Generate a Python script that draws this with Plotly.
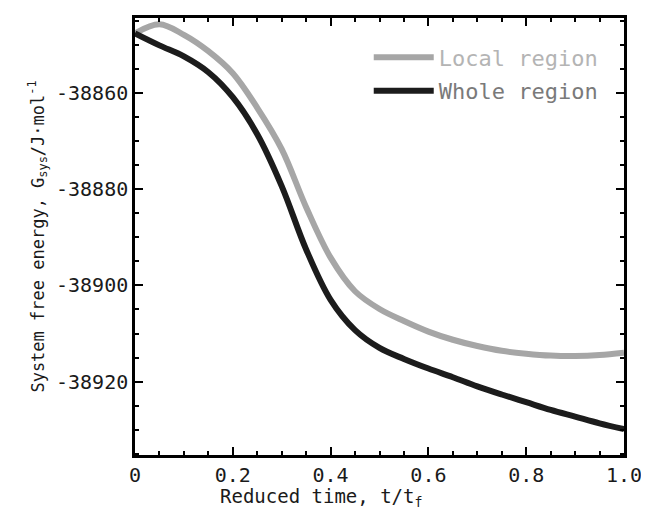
import plotly.graph_objects as go

reduced_time = [0, 0.05, 0.1, 0.15, 0.2, 0.25, 0.3, 0.35, 0.4, 0.45, 0.5,
                0.55, 0.6, 0.65, 0.7, 0.75, 0.8, 0.85, 0.9, 0.95, 1.0]
local_region = [-38847.5, -38845.6, -38847.8, -38851.2, -38855.8, -38863.0,
                -38871.6, -38883.7, -38894.2, -38901.2, -38904.9, -38907.4,
                -38909.6, -38911.3, -38912.6, -38913.6, -38914.2, -38914.6,
                -38914.7, -38914.5, -38914.0]
whole_region = [-38847.5, -38850.0, -38852.3, -38855.6, -38860.8, -38868.5,
                -38879.3, -38892.5, -38903.0, -38909.3, -38913.0, -38915.3,
                -38917.3, -38919.1, -38921.0, -38922.7, -38924.3, -38925.9,
                -38927.3, -38928.7, -38929.9]

x_tickvals = [0, 0.2, 0.4, 0.6, 0.8, 1.0]
x_ticktext = ["0", "0.2", "0.4", "0.6", "0.8", "1.0"]
y_tickvals = [-38860, -38880, -38900, -38920]
y_ticktext = ["-38860", "-38880", "-38900", "-38920"]

x_title = "Reduced time, t/t<sub>f</sub>"
y_title = "System free energy, G<sub>sys</sub>/J·mol<sup>-1</sup>"

font_mono = "DejaVu Sans Mono"

fig = go.Figure()
fig.add_trace(go.Scatter(
    x=reduced_time, y=local_region, mode="lines", line_shape="spline",
    name="<span style='color:#b4b4b4'>Local region</span>", legendgroup="a",
    line=dict(color="#a6a6a6", width=6)))
fig.add_trace(go.Scatter(
    x=reduced_time, y=whole_region, mode="lines", line_shape="spline",
    name="<span style='color:#7a7a7a'>Whole region</span>", legendgroup="b",
    line=dict(color="#1c1c1c", width=6)))

axis_common = dict(
    showline=True, linecolor="black", linewidth=2.5, mirror="ticks",
    ticks="inside", tickcolor="black", tickwidth=2, ticklen=8,
    showgrid=False, zeroline=False,
    tickfont=dict(family=font_mono, size=20, color="#1a1a1a"),
)

fig.update_xaxes(
    range=[0, 1.0], tickvals=x_tickvals, ticktext=x_ticktext,
    minor=dict(dtick=0.05, ticks="inside", ticklen=4, tickcolor="black", tickwidth=2),
    **axis_common)
fig.update_yaxes(
    range=[-38935.3, -38844.3], tickvals=y_tickvals, ticktext=y_ticktext,
    minor=dict(dtick=5, ticks="inside", ticklen=4, tickcolor="black", tickwidth=2),
    title=dict(text=y_title,
               font=dict(family=font_mono, size=17, color="#1a1a1a"), standoff=8),
    **axis_common)

fig.add_annotation(
    text=x_title, xref="paper", yref="paper", x=0.38, y=-0.097,
    xanchor="center", yanchor="middle", showarrow=False,
    font=dict(family=font_mono, size=19, color="#1a1a1a"))

fig.update_layout(
    width=641, height=503,
    margin=dict(l=127, r=19, t=7, b=56),
    plot_bgcolor="white", paper_bgcolor="white",
    legend=dict(x=0.478, y=0.958, xanchor="left", yanchor="top",
                bgcolor="rgba(0,0,0,0)", tracegroupgap=2,
                font=dict(family=font_mono, size=22, color="#777"),
                itemwidth=60),
)

fig.write_html("out.html")
